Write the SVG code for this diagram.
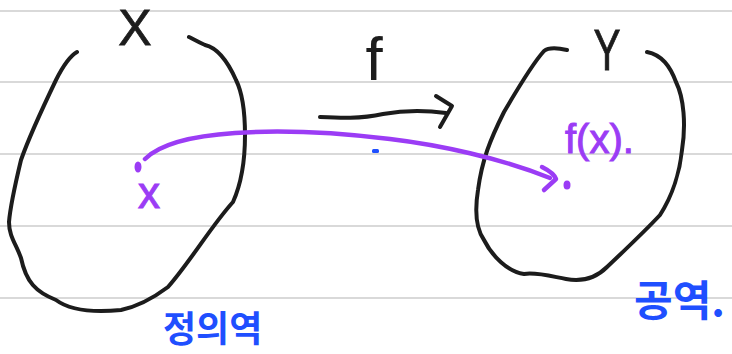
<svg xmlns="http://www.w3.org/2000/svg" width="732" height="354" viewBox="0 0 732 354">
<style>
.rule{stroke:#d9d9d9;stroke-width:2}
.ink{fill:none;stroke:#1c1c1c;stroke-width:4;stroke-linecap:round;stroke-linejoin:round}
.pur{fill:none;stroke:#9b3cf5;stroke-width:4.5;stroke-linecap:round;stroke-linejoin:round}
.lbl{font-family:"Liberation Sans",Arial,sans-serif;fill:#1c1c1c;stroke:#1c1c1c;stroke-width:0.8}
.plbl{font-family:"Liberation Sans",Arial,sans-serif;fill:#9b3cf5;stroke:#9b3cf5;stroke-width:1}
.kr{font-family:"Noto Sans CJK KR",sans-serif;fill:#1f4fff;font-weight:bold}
</style>
<rect width="732" height="354" fill="#ffffff"/>
<g id="ruled-paper">
<line class="rule" x1="0" y1="11" x2="732" y2="11"/>
<line class="rule" x1="0" y1="82" x2="732" y2="82"/>
<line class="rule" x1="0" y1="154" x2="732" y2="154"/>
<line class="rule" x1="0" y1="226" x2="732" y2="226"/>
<line class="rule" x1="0" y1="298" x2="732" y2="298"/>
</g>
<g id="X">
<path class="ink" d="M77,52 C70,56 64,64 56,80 C44,105 28,140 21,160 C15,185 10,210 9,222 C9,236 16,244 21,258 C26,282 36,292 56,300 C72,312 100,312 121,310 C140,306 156,296 168,287 C190,262 212,225 233,202 C242,182 245,160 245,135 C245,110 241,90 236,80 C228,62 218,48 205,45 C198,42 193,39 189,37"/>
<text class="lbl" x="135" y="45" font-size="50" text-anchor="middle">X</text>
</g>
<g id="Y">
<path class="ink" d="M567,50 C558,48 549,47 544,51 C534,62 518,88 504,112 C490,140 482,160 478,190 C474,215 477,230 484,240 C492,256 508,272 524,274 C536,272 550,276 566,279 C582,282 596,278 607,267 C625,250 646,230 660,215 C673,195 680,170 682,150 C686,125 684,98 676,82 C670,66 662,55 647,52"/>
<text class="lbl" x="607" y="70" font-size="58" text-anchor="middle" transform="translate(607,0) scale(0.7,1) translate(-607,0)">Y</text>
</g>
<g id="connectors">
<g id="f-arrow">
<path class="ink" d="M320,117 C340,118 360,119 383,114 C405,110 425,110 446,113"/>
<path class="ink" d="M436,96 L452,106 L440,127"/>
<text x="374" y="80" font-size="62" text-anchor="middle" font-family="Liberation Sans, Arial, sans-serif" fill="#1c1c1c">f</text>
</g>
<g id="map-arrow">
<path class="pur" d="M145,159 C160,144 190,136 235,133 C290,129 340,133 390,139 C440,145 500,158 550,178"/>
<path class="pur" d="M542,167 Q554,173 556,179 L544,190"/>
</g>
</g>
<g id="point-x">
<ellipse cx="138" cy="167" rx="3.5" ry="5.5" fill="#9b3cf5"/>
<text class="plbl" x="149" y="208" font-size="44" text-anchor="middle">x</text>
</g>
<g id="point-fx">
<ellipse cx="567" cy="185" rx="3.5" ry="4.5" fill="#9b3cf5"/>
<text class="plbl" x="565" y="153" font-size="40">f(x).</text>
</g>
<rect x="372" y="149" width="7" height="4" rx="1.5" fill="#1f4fff"/>
<g id="domain">
<text class="kr" x="163" y="342" font-size="36">정의역</text>
</g>
<g id="codomain">
<text class="kr" x="634" y="316" font-size="42">공역.</text>
</g>
</svg>
